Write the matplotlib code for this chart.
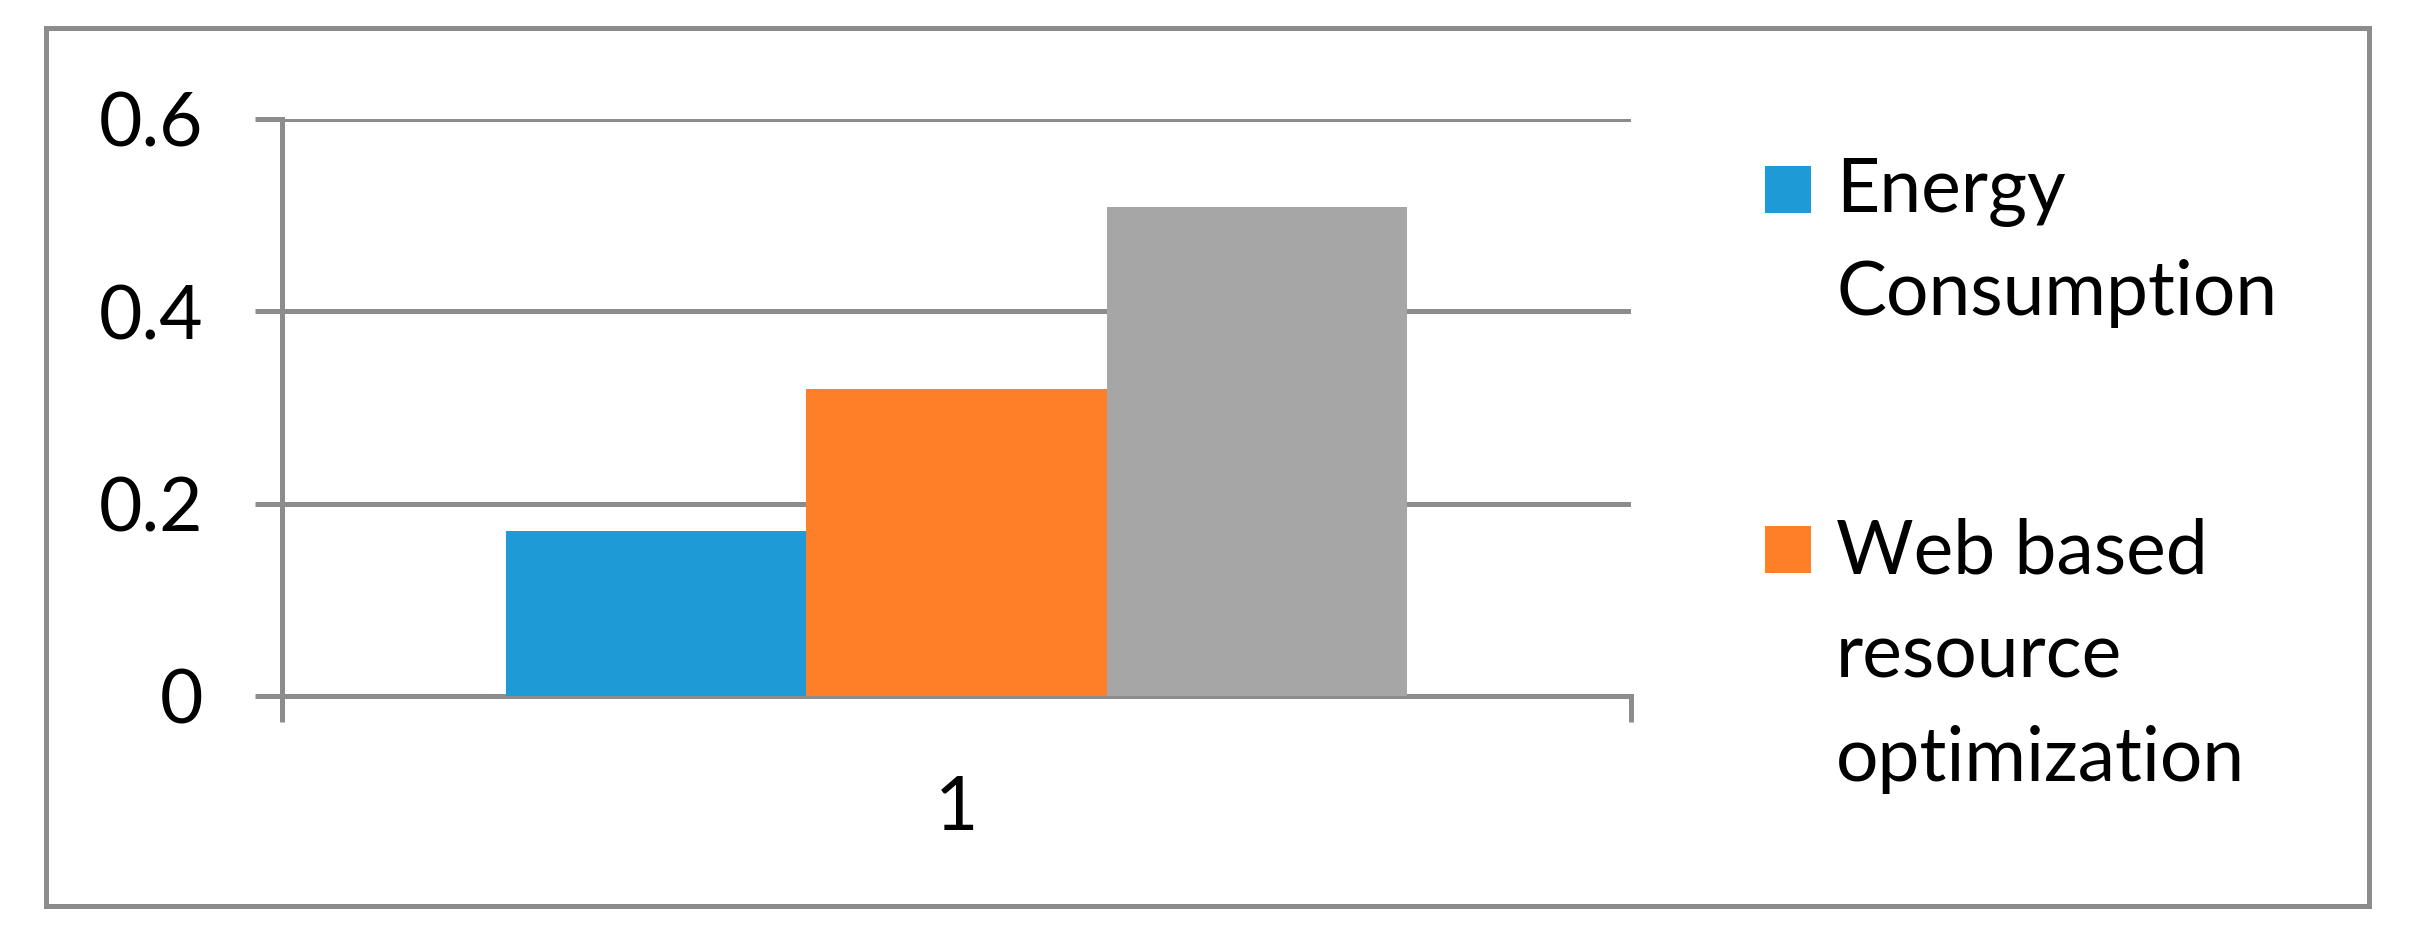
import matplotlib
matplotlib.use("Agg")
import matplotlib.pyplot as plt
from matplotlib.patches import Rectangle
from matplotlib.ticker import FixedLocator, NullFormatter

# ---- data ----
categories = ["1"]
series_names = ["Energy\nConsumption", "Web based\nresource\noptimization", ""]
series_values = [0.172, 0.319, 0.508]
series_colors = ["#1e9bd7", "#fe7f27", "#a6a6a6"]
y_ticks = [0, 0.2, 0.4, 0.6]
y_tick_labels = ["0", "0.2", "0.4", "0.6"]

W, H = 2409, 935
DPI = 100
plt.rcParams['font.family'] = ['Lato', 'DejaVu Sans']
GRAY = "#8c8c8c"
LW = 5 * 72 / DPI  # 5 px
FS = 54

fig = plt.figure(figsize=(W / DPI, H / DPI), dpi=DPI)
fig.patch.set_facecolor("white")

def fx(px):
    return px / W

def fy(py):
    return 1 - py / H

# outer border
fig.patches.append(Rectangle((fx(45.5), fy(906)), fx(2369) - fx(45.5), fy(27.5) - fy(906),
                             transform=fig.transFigure, fill=False, edgecolor=GRAY,
                             linewidth=LW, zorder=0))

ax_l, ax_r, ax_t, ax_b = 282, 1631, 119, 696
ax = fig.add_axes([fx(ax_l), fy(ax_b), fx(ax_r) - fx(ax_l), fy(ax_t) - fy(ax_b)])
ax.set_facecolor("none")

n = len(series_values)
bar_w = 0.2227
start = 0.5 - bar_w * n / 2
for i, (v, c) in enumerate(zip(series_values, series_colors)):
    ax.bar(start + bar_w * (i + 0.5), v, width=bar_w, color=c, zorder=3, linewidth=0)

ax.set_xlim(0, 1)
ax.set_ylim(0, 0.6)
ax.set_yticks(y_ticks)
ax.set_yticklabels(y_tick_labels)
ax.yaxis.grid(True, color=GRAY, linewidth=LW)
ax.set_axisbelow(True)

# x: label at category center, boundary ticks at edges
ax.set_xticks([0.5])
ax.set_xticklabels(categories)
ax.xaxis.set_minor_locator(FixedLocator([0, 1]))
ax.xaxis.set_minor_formatter(NullFormatter())
ax.tick_params(axis='x', which='major', length=0, pad=56, labelsize=FS)
ax.tick_params(axis='x', which='minor', length=26 * 72 / DPI, width=LW, color=GRAY, direction='out')
ax.tick_params(axis='y', which='major', length=27 * 72 / DPI, width=LW, color=GRAY,
               direction='out', pad=37, labelsize=FS)

for s in ["top", "right"]:
    ax.spines[s].set_visible(False)
for s in ["left", "bottom"]:
    ax.spines[s].set_color(GRAY)
    ax.spines[s].set_linewidth(LW)

# legend (manual, first two series)
legend_items = [
    (series_names[0], series_colors[0], 166, [212, 315]),
    (series_names[1], series_colors[1], 526, [573, 677, 781]),
]
for name, color, sq_top, baselines in legend_items:
    fig.patches.append(Rectangle((fx(1765), fy(sq_top + 47)), fx(1811) - fx(1765), fy(sq_top) - fy(sq_top + 47),
                                 transform=fig.transFigure, facecolor=color, edgecolor='none'))
    for line, b in zip(name.split("\n"), baselines):
        fig.text(fx(1836), fy(b), line, fontsize=FS, va='baseline', ha='left')

fig.savefig("out.png", dpi=DPI, facecolor="white")
